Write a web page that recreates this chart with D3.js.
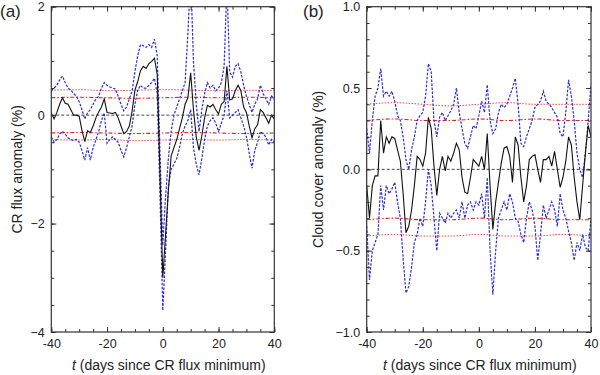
<!DOCTYPE html>
<html>
<head>
<meta charset="utf-8">
<title>CR flux and cloud cover anomalies</title>
<script src="https://d3js.org/d3.v7.min.js"></script>
<style>
  body { margin: 0; background: #fff; }
  svg text { font-family: "Liberation Sans", Arial, sans-serif; fill: #222; }
</style>
</head>
<body>
<svg width="600" height="375"></svg>
<script>
// days since CR flux minimum
const days = d3.range(-40, 41);

// panel (a): CR flux anomaly (%)
const crMean = [0.04,-0.07,0.05,0.2,0.32,0.22,0.2,0.1,0.0,0.0,
  -0.02,-0.28,-0.49,-0.29,-0.32,-0.2,-0.05,0.06,0.15,0.3,
  0.05,0.04,0.03,0.05,-0.05,-0.2,-0.34,-0.3,-0.2,0.08,
  0.46,0.62,0.82,0.9,0.86,0.95,0.99,1.05,0.75,-1.1,
  -3.0,-2.2,-1.4,-0.75,-0.6,-0.45,-0.25,-0.05,0.2,0.32,
  0.78,0.1,-0.4,-0.65,-0.38,-0.05,0.18,0.15,0.2,0.1,
  0.02,0.2,0.25,0.9,0.28,0.3,0.45,0.55,0.45,0.15,
  0.05,-0.2,-0.42,-0.25,-0.18,0.1,0.05,-0.05,-0.15,0.0,-0.07];
const crUpper = [0.45,0.5,0.55,0.65,0.72,0.6,0.5,0.46,0.4,0.35,
  0.25,0.1,-0.07,0.04,0.1,0.2,0.3,0.35,0.5,0.6,
  0.55,0.52,0.5,0.48,0.35,0.2,0.08,0.15,0.3,0.45,
  0.8,1.1,1.3,1.28,1.25,1.3,1.25,1.4,1.1,-0.7,
  -2.4,-1.5,-0.8,-0.3,0.0,0.15,0.3,0.45,0.6,1.5,
  2.6,1.0,0.2,-0.3,0.1,0.4,0.6,0.5,0.55,0.45,
  0.5,0.6,0.9,2.4,0.8,0.7,0.9,0.95,0.8,0.55,
  0.35,0.2,0.05,0.2,0.3,0.55,0.4,0.3,0.2,0.35,0.3];
const crLower = [-0.4,-0.5,-0.45,-0.35,-0.3,-0.35,-0.42,-0.45,-0.47,-0.45,
  -0.5,-0.65,-0.83,-0.6,-0.83,-0.6,-0.45,-0.3,-0.1,0.04,
  -0.52,-0.45,-0.4,-0.45,-0.5,-0.65,-0.77,-0.6,-0.4,-0.2,
  0.2,0.46,0.55,0.5,0.5,0.55,0.6,0.68,0.4,-1.5,
  -3.6,-2.5,-1.3,-1.0,-0.9,-0.8,-0.6,-0.35,-0.2,-0.1,
  0.1,-0.6,-0.9,-1.1,-0.8,-0.45,-0.2,-0.1,-0.05,-0.15,
  -0.3,-0.15,0.0,0.45,-0.05,0.0,0.05,0.1,-0.05,-0.2,
  -0.4,-0.7,-0.98,-0.65,-0.5,-0.3,-0.35,-0.4,-0.55,-0.45,-0.5];

// panel (b): cloud cover anomaly (%)
const ccMean = [-0.1,-0.3,-0.1,-0.04,-0.04,0.3,0.1,0.2,0.16,0.2,
  0.19,0.12,0.05,-0.15,-0.39,-0.35,-0.25,-0.1,0.08,0.06,
  0.02,0.1,0.32,0.25,0.02,-0.16,0.0,0.08,-0.01,0.08,
  0.05,0.1,0.16,0.12,-0.05,-0.14,-0.15,-0.05,0.06,0.04,
  0.02,0.08,0.0,0.22,-0.1,-0.37,-0.2,-0.08,0.04,0.13,
  0.14,0.08,-0.08,0.2,0.15,-0.05,-0.2,-0.1,0.06,0.08,
  0.09,0.0,-0.08,0.06,0.06,0.08,0.02,0.11,0.0,-0.11,
  -0.05,0.05,0.2,0.15,-0.05,-0.2,-0.31,-0.1,0.1,0.27,0.2];
const ccUpper = [0.25,0.1,0.3,0.45,0.5,0.62,0.45,0.48,0.45,0.48,
  0.42,0.33,0.3,0.2,0.06,0.0,0.12,0.2,0.3,0.33,
  0.35,0.45,0.65,0.6,0.3,0.2,0.32,0.35,0.3,0.33,
  0.36,0.4,0.5,0.35,0.25,0.16,0.13,0.2,0.27,0.25,
  0.33,0.42,0.35,0.52,0.3,0.22,0.25,0.35,0.4,0.38,
  0.4,0.45,0.5,0.56,0.4,0.16,0.14,0.2,0.25,0.3,
  0.38,0.4,0.42,0.48,0.42,0.4,0.38,0.35,0.32,0.22,
  0.2,0.35,0.55,0.45,0.3,0.1,0.0,-0.05,0.1,0.3,0.52];
const ccLower = [-0.35,-0.68,-0.5,-0.45,-0.4,-0.1,-0.25,-0.1,-0.15,-0.12,
  -0.08,-0.2,-0.3,-0.55,-0.76,-0.72,-0.6,-0.45,-0.4,-0.3,
  -0.35,-0.2,0.0,-0.1,-0.3,-0.5,-0.27,-0.3,-0.33,-0.27,
  -0.3,-0.27,-0.25,-0.3,-0.2,-0.3,-0.22,-0.2,-0.25,-0.2,
  -0.22,-0.15,-0.3,-0.05,-0.5,-0.77,-0.5,-0.3,-0.25,-0.2,
  -0.25,-0.15,-0.2,-0.3,-0.32,-0.4,-0.45,-0.3,-0.2,-0.25,
  -0.35,-0.56,-0.4,-0.22,-0.3,-0.25,-0.2,-0.25,-0.35,-0.15,
  -0.25,-0.3,-0.38,-0.45,-0.56,-0.45,-0.5,-0.4,-0.48,-0.5,-0.3];

// significance levels, read every 10 days
const levelDays = [-40, -30, -20, -10, 0, 10, 20, 30, 40];
const crSig95 = [0.32, 0.33, 0.32, 0.31, 0.32, 0.33, 0.32, 0.33, 0.32];
const crSig99 = [0.46, 0.47, 0.45, 0.46, 0.47, 0.46, 0.45, 0.46, 0.45];
const crSig95Lo = [-0.33, -0.32, -0.33, -0.34, -0.33, -0.32, -0.33, -0.34, -0.33];
const crSig99Lo = [-0.45, -0.46, -0.45, -0.47, -0.46, -0.45, -0.46, -0.45, -0.46];
const ccSig95 = [0.30, 0.31, 0.30, 0.30, 0.31, 0.30, 0.31, 0.30, 0.30];
const ccSig99 = [0.40, 0.41, 0.40, 0.39, 0.40, 0.41, 0.40, 0.40, 0.40];
const ccSig95Lo = [-0.31, -0.30, -0.31, -0.31, -0.30, -0.31, -0.30, -0.31, -0.31];
const ccSig99Lo = [-0.41, -0.40, -0.41, -0.41, -0.40, -0.41, -0.41, -0.40, -0.41];

const xTicks = [-40, -20, 0, 20, 40];
const crTicks = [-4, -2, 0, 2];
const ccTicks = [-1.0, -0.5, 0.0, 0.5, 1.0];

const svg = d3.select("svg");
const plotTop = 6.7, plotBottom = 332;

function panel(o) {
  const x = d3.scaleLinear().domain([-40, 40]).range([o.left, o.right]);
  const y = d3.scaleLinear().domain(o.yDomain).range([plotBottom, plotTop]);
  const g = svg.append("g");

  const clipId = "clip" + o.name;
  g.append("clipPath").attr("id", clipId)
    .append("rect").attr("x", o.left).attr("y", plotTop)
    .attr("width", o.right - o.left).attr("height", plotBottom - plotTop);

  const plot = g.append("g").attr("clip-path", "url(#" + clipId + ")");

  // zero line
  plot.append("line")
    .attr("x1", x(-40)).attr("x2", x(40))
    .attr("y1", y(0)).attr("y2", y(0))
    .attr("stroke", "#333").attr("stroke-width", 0.9)
    .attr("stroke-dasharray", "3,2");

  // red significance levels
  const lvl = d3.line().x((d, i) => x(levelDays[i])).y(d => y(d)).curve(d3.curveMonotoneX);
  o.inner.forEach(s => {
    plot.append("path").attr("d", lvl(s)).attr("fill", "none")
      .attr("stroke", "#e51e1e").attr("stroke-width", 1.1)
      .attr("stroke-dasharray", "4,2,1.5,2");
  });
  o.outer.forEach(s => {
    plot.append("path").attr("d", lvl(s)).attr("fill", "none")
      .attr("stroke", "#ec4a44").attr("stroke-width", 1)
      .attr("stroke-dasharray", "1.5,1.5");
  });

  const line = d3.line().x((d, i) => x(days[i])).y(d => y(d));

  // spread (blue dashed)
  [o.upper, o.lower].forEach(s => {
    plot.append("path").attr("d", line(s)).attr("fill", "none")
      .attr("stroke", "#2a2ad8").attr("stroke-width", 1.2)
      .attr("stroke-dasharray", "2.5,1.5");
  });

  // mean (black)
  plot.append("path").attr("d", line(o.mean)).attr("fill", "none")
    .attr("stroke", "#111").attr("stroke-width", 1.1);

  // ticks on all four sides, pointing inward
  const tickStyle = sel => {
    sel.select(".domain").remove();
    sel.selectAll("line").attr("stroke", "#333");
    sel.selectAll("text").attr("font-size", "12.5px")
      .attr("font-family", "Liberation Sans, Arial, sans-serif").attr("fill", "#222");
  };
  const xMinor = d3.range(-40, 41, 5);
  const yMinor = d3.range(o.yDomain[0], o.yDomain[1] + 1e-9, o.yMinorStep);

  g.append("g").attr("transform", `translate(0,${plotBottom})`)
    .call(d3.axisBottom(x).tickValues(xMinor).tickSize(-3).tickFormat("")).call(tickStyle);
  g.append("g").attr("transform", `translate(0,${plotBottom})`)
    .call(d3.axisBottom(x).tickValues(xTicks).tickSize(-5).tickPadding(7)).call(tickStyle)
    .selectAll("text").text(d => d);
  g.append("g").attr("transform", `translate(0,${plotTop})`)
    .call(d3.axisTop(x).tickValues(xMinor).tickSize(-3).tickFormat("")).call(tickStyle);
  g.append("g").attr("transform", `translate(0,${plotTop})`)
    .call(d3.axisTop(x).tickValues(xTicks).tickSize(-5).tickFormat("")).call(tickStyle);

  g.append("g").attr("transform", `translate(${o.left},0)`)
    .call(d3.axisLeft(y).tickValues(yMinor).tickSize(-3).tickFormat("")).call(tickStyle);
  g.append("g").attr("transform", `translate(${o.left},0)`)
    .call(d3.axisLeft(y).tickValues(o.yTicks).tickSize(-5).tickPadding(6.5).tickFormat(o.fmt)).call(tickStyle);
  g.append("g").attr("transform", `translate(${o.right},0)`)
    .call(d3.axisRight(y).tickValues(yMinor).tickSize(-3).tickFormat("")).call(tickStyle);
  g.append("g").attr("transform", `translate(${o.right},0)`)
    .call(d3.axisRight(y).tickValues(o.yTicks).tickSize(-5).tickFormat("")).call(tickStyle);

  // frame
  g.append("rect").attr("x", o.left).attr("y", plotTop)
    .attr("width", o.right - o.left).attr("height", plotBottom - plotTop)
    .attr("fill", "none").attr("stroke", "#333").attr("stroke-width", 1.2);

  // titles
  const xt = g.append("text").attr("x", (o.left + o.right) / 2 + o.xTitleShift).attr("y", 370)
    .attr("text-anchor", "middle").attr("font-size", "14px");
  xt.append("tspan").attr("font-style", "italic").text("t");
  xt.append("tspan").text(" (days since CR flux minimum)");

  g.append("text")
    .attr("transform", `translate(${o.yTitleX},${(plotTop + plotBottom) / 2}) rotate(-90)`)
    .attr("text-anchor", "middle").attr("font-size", "14px").text(o.yTitle);

  g.append("text").attr("x", o.tagX).attr("y", 17)
    .attr("font-size", "17px").text(o.tag);
}

panel({
  name: "a", left: 51.3, right: 274.3, yDomain: [-4, 2], yMinorStep: 0.5,
  yTicks: crTicks, fmt: d3.format("d"),
  mean: crMean, upper: crUpper, lower: crLower,
  inner: [crSig95, crSig95Lo], outer: [crSig99, crSig99Lo],
  yTitle: "CR flux anomaly (%)", yTitleX: 21.5, xTitleShift: 6, tag: "(a)", tagX: 0
});

panel({
  name: "b", left: 366.7, right: 591, yDomain: [-1, 1], yMinorStep: 0.1,
  yTicks: ccTicks, fmt: d3.format(".1f"),
  mean: ccMean, upper: ccUpper, lower: ccLower,
  inner: [ccSig95, ccSig95Lo], outer: [ccSig99, ccSig99Lo],
  yTitle: "Cloud cover anomaly (%)", yTitleX: 323, xTitleShift: 1, tag: "(b)", tagX: 303
});
</script>
</body>
</html>
